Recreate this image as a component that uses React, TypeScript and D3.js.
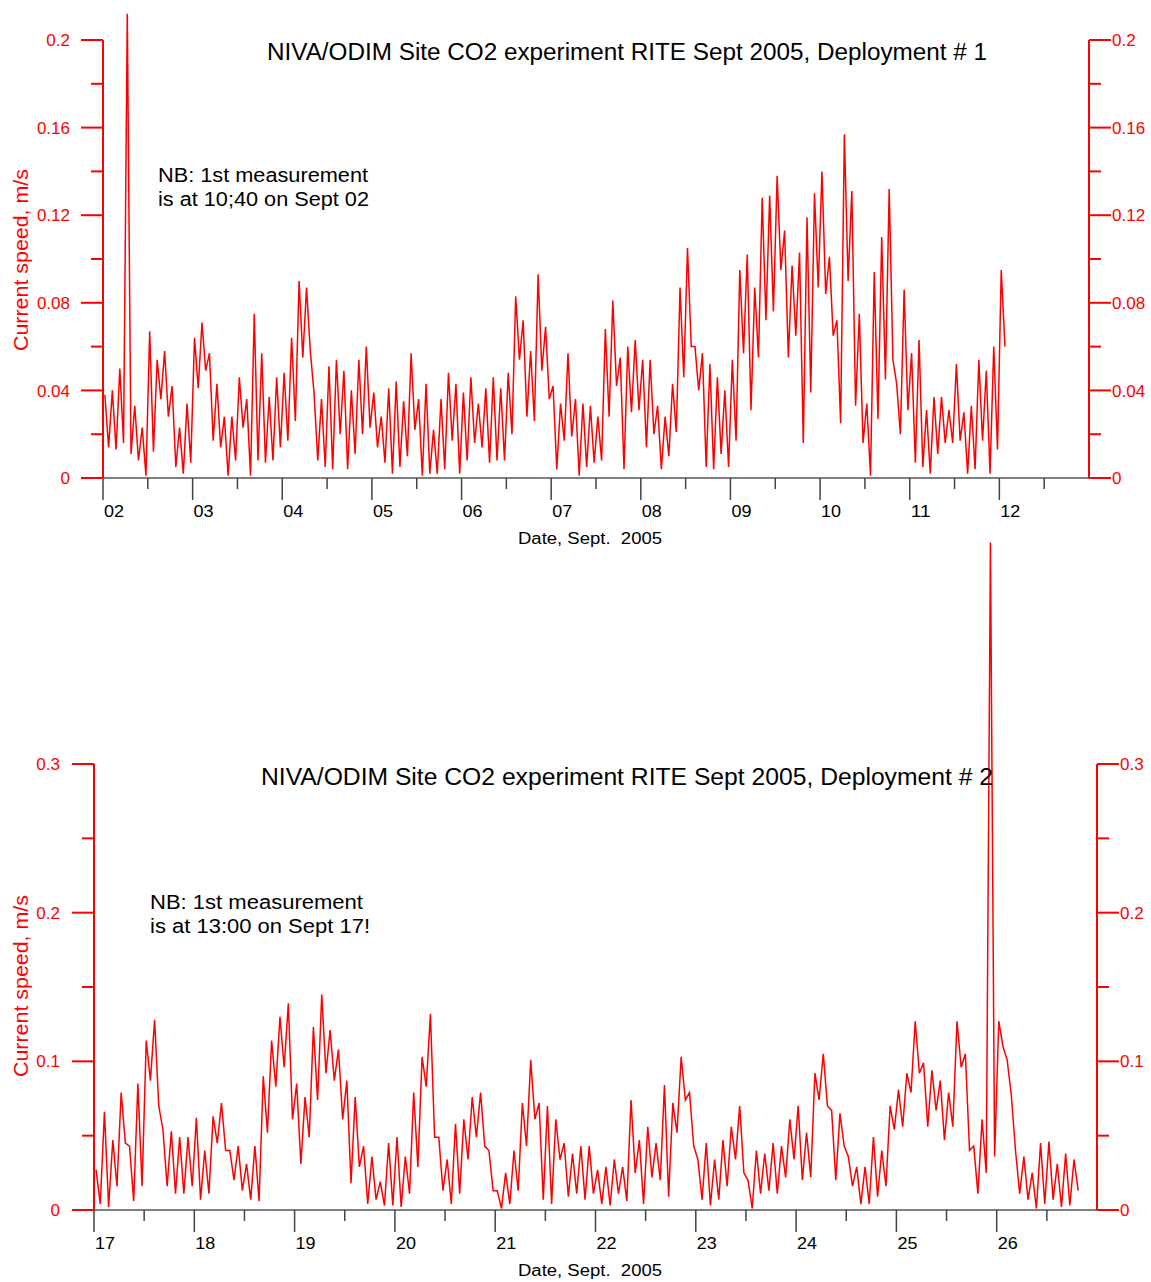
import { useEffect, useRef } from 'react';
import * as d3 from 'd3';

// 2-hour bins, high / low envelope (m/s)
const binsPerDay = 12;

const dep1Start = 2;
const dep1Hi = [
  0.038, 0.040, 0.050, 0.212, 0.033, 0.023,
  0.067, 0.054, 0.058, 0.042, 0.023, 0.034,
  0.064, 0.071, 0.057, 0.043, 0.028, 0.028,
  0.046, 0.036, 0.075, 0.057, 0.037, 0.046,
  0.048, 0.064, 0.090, 0.087, 0.039, 0.036,
  0.051, 0.054, 0.049, 0.040, 0.054, 0.060,
  0.039, 0.028, 0.041, 0.044, 0.035, 0.057,
  0.036, 0.043, 0.022, 0.036, 0.048, 0.043,
  0.039, 0.046, 0.034, 0.041, 0.046, 0.041,
  0.048, 0.083, 0.072, 0.058, 0.093, 0.069,
  0.042, 0.034, 0.057, 0.036, 0.034, 0.033,
  0.028, 0.068, 0.081, 0.055, 0.060, 0.063,
  0.054, 0.054, 0.033, 0.028, 0.043, 0.087,
  0.105, 0.060, 0.057, 0.052, 0.046, 0.040,
  0.054, 0.095, 0.102, 0.087, 0.128, 0.129,
  0.138, 0.113, 0.097, 0.103, 0.119, 0.130,
  0.140, 0.101, 0.072, 0.157, 0.131, 0.075,
  0.034, 0.094, 0.110, 0.132, 0.043, 0.086,
  0.057, 0.063, 0.031, 0.037, 0.037, 0.031,
  0.052, 0.030, 0.033, 0.054, 0.049, 0.060,
  0.095,
];
const dep1Lo = [
  0.014, 0.013, 0.016, 0.011, 0.008, 0.001,
  0.012, 0.036, 0.028, 0.005, 0.002, 0.007,
  0.041, 0.049, 0.017, 0.014, 0.001, 0.008,
  0.023, 0.001, 0.008, 0.007, 0.008, 0.014,
  0.017, 0.026, 0.055, 0.058, 0.008, 0.005,
  0.004, 0.020, 0.004, 0.011, 0.020, 0.023,
  0.014, 0.007, 0.002, 0.005, 0.010, 0.022,
  0.001, 0.002, 0.002, 0.004, 0.017, 0.002,
  0.008, 0.016, 0.014, 0.007, 0.008, 0.008,
  0.020, 0.054, 0.028, 0.026, 0.049, 0.036,
  0.004, 0.017, 0.019, 0.001, 0.005, 0.007,
  0.008, 0.028, 0.042, 0.004, 0.030, 0.031,
  0.014, 0.020, 0.004, 0.010, 0.021, 0.046,
  0.060, 0.040, 0.005, 0.004, 0.011, 0.005,
  0.017, 0.057, 0.031, 0.055, 0.072, 0.076,
  0.095, 0.055, 0.065, 0.016, 0.039, 0.087,
  0.084, 0.065, 0.025, 0.090, 0.033, 0.016,
  0.001, 0.027, 0.045, 0.054, 0.020, 0.031,
  0.007, 0.005, 0.002, 0.011, 0.016, 0.016,
  0.017, 0.002, 0.004, 0.017, 0.002, 0.013,
  0.060,
];

const dep2Start = 17;
const dep2Hi = [
  0.027, 0.066, 0.047, 0.079, 0.043, 0.085,
  0.114, 0.128, 0.054, 0.053, 0.049, 0.049,
  0.062, 0.040, 0.063, 0.072, 0.040, 0.043,
  0.031, 0.043, 0.090, 0.114, 0.130, 0.139,
  0.085, 0.076, 0.123, 0.145, 0.121, 0.108,
  0.087, 0.076, 0.043, 0.036, 0.019, 0.045,
  0.049, 0.036, 0.079, 0.103, 0.132, 0.049,
  0.034, 0.058, 0.061, 0.076, 0.079, 0.040,
  0.013, 0.025, 0.040, 0.072, 0.101, 0.072,
  0.070, 0.061, 0.045, 0.038, 0.043, 0.043,
  0.027, 0.029, 0.034, 0.029, 0.074, 0.047,
  0.056, 0.045, 0.084, 0.072, 0.103, 0.079,
  0.034, 0.045, 0.034, 0.047, 0.056, 0.070,
  0.020, 0.040, 0.038, 0.045, 0.043, 0.061,
  0.070, 0.052, 0.092, 0.105, 0.067, 0.065,
  0.036, 0.029, 0.029, 0.049, 0.040, 0.070,
  0.081, 0.092, 0.127, 0.099, 0.094, 0.087,
  0.079, 0.127, 0.105, 0.043, 0.061, 0.449,
  0.127, 0.101, 0.040, 0.036, 0.025, 0.045,
  0.046, 0.031, 0.038, 0.034,
];
const dep2Lo = [
  0.004, 0.002, 0.016, 0.045, 0.006, 0.016,
  0.087, 0.070, 0.016, 0.011, 0.011, 0.016,
  0.007, 0.011, 0.045, 0.040, 0.020, 0.013,
  0.007, 0.006, 0.052, 0.083, 0.096, 0.061,
  0.031, 0.049, 0.074, 0.092, 0.087, 0.061,
  0.018, 0.029, 0.004, 0.007, 0.003, 0.003,
  0.002, 0.011, 0.029, 0.083, 0.049, 0.013,
  0.004, 0.011, 0.034, 0.049, 0.043, 0.013,
  0.001, 0.004, 0.013, 0.043, 0.061, 0.007,
  0.004, 0.034, 0.009, 0.011, 0.007, 0.011,
  0.004, 0.003, 0.011, 0.006, 0.025, 0.004,
  0.022, 0.020, 0.009, 0.052, 0.074, 0.043,
  0.007, 0.003, 0.007, 0.016, 0.034, 0.025,
  0.001, 0.011, 0.013, 0.011, 0.022, 0.034,
  0.020, 0.022, 0.074, 0.070, 0.020, 0.043,
  0.016, 0.004, 0.004, 0.009, 0.016, 0.054,
  0.056, 0.079, 0.092, 0.056, 0.067, 0.047,
  0.056, 0.096, 0.040, 0.011, 0.025, 0.036,
  0.110, 0.077, 0.011, 0.007, 0.001, 0.004,
  0.007, 0.002, 0.003, 0.013,
];

const dep1Days = [2, 3, 4, 5, 6, 7, 8, 9, 10, 11, 12];
const dep2Days = [17, 18, 19, 20, 21, 22, 23, 24, 25, 26];
const dep1YTicks = [0, 0.04, 0.08, 0.12, 0.16, 0.2];
const dep2YTicks = [0, 0.1, 0.2, 0.3];

const RED = '#ff0000';
const FONT = '"Liberation Sans", Arial, Helvetica, sans-serif';

interface PanelCfg {
  hi: number[];
  lo: number[];
  start: number;
  xDomain: [number, number];
  xRange: [number, number];
  yDomain: [number, number];
  yRange: [number, number];
  yTicks: number[];
  days: number[];
  title: string;
  titleY: number;
  titleW: number;
  note: string[];
  noteW: number[];
  noteX: number;
  noteY: number;
  yTitleY: number;
  leftLabelX: number;
  xLabelY: number;
}

function drawPanel(svg: d3.Selection<SVGSVGElement, unknown, null, undefined>, p: PanelCfg) {
  const x = d3.scaleLinear().domain(p.xDomain).range(p.xRange);
  const y = d3.scaleLinear().domain(p.yDomain).range(p.yRange);
  const [x0, x1] = p.xRange;
  const [yb, yt] = p.yRange;
  const g = svg.append('g');

  // minor y ticks halfway between majors
  const step = p.yTicks[1] - p.yTicks[0];
  const yMinor = p.yTicks.slice(0, -1).map(v => v + step / 2);

  // series: each 2 h bin drawn as its high then its low
  const pts: [number, number][] = [];
  p.hi.forEach((h, i) => {
    pts.push([p.start + (i + 0.25) / binsPerDay, h]);
    pts.push([p.start + (i + 0.75) / binsPerDay, p.lo[i]]);
  });
  const line = d3.line<[number, number]>().x(d => x(d[0])).y(d => y(d[1]));
  g.append('path')
    .attr('d', line(pts))
    .attr('fill', 'none').attr('stroke', RED)
    .attr('stroke-width', 1.5).attr('stroke-linejoin', 'miter');

  // x axis
  g.append('line')
    .attr('x1', x0).attr('x2', x1).attr('y1', yb).attr('y2', yb)
    .attr('stroke', '#555').attr('stroke-width', 1.5);
  const allDays = d3.range(p.xDomain[0], p.xDomain[1], 0.5);
  g.selectAll('.xt').data(allDays).enter().append('line')
    .attr('x1', d => x(d)).attr('x2', d => x(d))
    .attr('y1', yb).attr('y2', d => yb + (d % 1 === 0 ? 22 : 11))
    .attr('stroke', '#444').attr('stroke-width', 1.5);
  g.selectAll('.xl').data(p.days).enter().append('text')
    .attr('x', d => x(d) + 1).attr('y', yb + 39)
    .attr('font-family', FONT).attr('font-size', 17).attr('fill', '#000')
    .attr('textLength', 20).attr('lengthAdjust', 'spacingAndGlyphs')
    .text(d => d3.format('02d')(d));
  g.append('text')
    .attr('x', 590).attr('y', p.xLabelY).attr('text-anchor', 'middle')
    .attr('font-family', FONT).attr('font-size', 16).attr('fill', '#000')
    .attr('xml:space', 'preserve')
    .attr('textLength', 144).attr('lengthAdjust', 'spacingAndGlyphs')
    .text('Date, Sept.  2005');

  // y axes, left and right
  [x0, x1].forEach((ax, side) => {
    const dir = side === 0 ? -1 : 1;
    g.append('line')
      .attr('x1', ax).attr('x2', ax).attr('y1', yb).attr('y2', yt)
      .attr('stroke', RED).attr('stroke-width', 2);
    g.selectAll(`.ymaj${side}`).data(p.yTicks).enter().append('line')
      .attr('x1', ax).attr('x2', ax + dir * 22)
      .attr('y1', d => y(d)).attr('y2', d => y(d))
      .attr('stroke', RED).attr('stroke-width', 2);
    g.selectAll(`.ymin${side}`).data(yMinor).enter().append('line')
      .attr('x1', ax).attr('x2', ax + dir * 12)
      .attr('y1', d => y(d)).attr('y2', d => y(d))
      .attr('stroke', RED).attr('stroke-width', 2);
    g.selectAll(`.yl${side}`).data(p.yTicks).enter().append('text')
      .attr('x', side === 0 ? p.leftLabelX : ax + 23)
      .attr('y', d => y(d)).attr('dy', '0.36em')
      .attr('text-anchor', side === 0 ? 'end' : 'start')
      .attr('font-family', FONT).attr('font-size', 17).attr('fill', RED)
      .text(d => String(d));
  });

  g.append('text')
    .attr('transform', `translate(28,${p.yTitleY}) rotate(-90)`)
    .attr('text-anchor', 'middle')
    .attr('font-family', FONT).attr('font-size', 20).attr('fill', RED)
    .attr('textLength', 182).attr('lengthAdjust', 'spacingAndGlyphs')
    .text('Current speed, m/s');

  // title and note
  g.append('text')
    .attr('x', 627).attr('y', p.titleY).attr('text-anchor', 'middle')
    .attr('font-family', FONT).attr('font-size', 23).attr('fill', '#000')
    .attr('textLength', p.titleW).attr('lengthAdjust', 'spacingAndGlyphs')
    .text(p.title);
  p.note.forEach((t, i) => {
    g.append('text')
      .attr('x', p.noteX).attr('y', p.noteY + i * 24)
      .attr('font-family', FONT).attr('font-size', 20).attr('fill', '#000')
      .attr('textLength', p.noteW[i]).attr('lengthAdjust', 'spacingAndGlyphs')
      .text(t);
  });
}

export default function App() {
  const ref = useRef<SVGSVGElement>(null);

  useEffect(() => {
    if (!ref.current) return;
    const svg = d3.select(ref.current);
    svg.selectAll('*').remove();

    drawPanel(svg, {
      hi: dep1Hi, lo: dep1Lo, start: dep1Start,
      xDomain: [2, 13], xRange: [103, 1089],
      yDomain: [0, 0.2], yRange: [478, 40],
      yTicks: dep1YTicks, days: dep1Days,
      title: 'NIVA/ODIM Site CO2 experiment RITE Sept 2005, Deployment # 1',
      titleY: 60, titleW: 720,
      note: ['NB: 1st measurement', 'is at 10;40 on Sept 02'],
      noteW: [210, 211],
      noteX: 158, noteY: 182,
      yTitleY: 260, leftLabelX: 70, xLabelY: 544,
    });

    drawPanel(svg, {
      hi: dep2Hi, lo: dep2Lo, start: dep2Start,
      xDomain: [17, 27], xRange: [94, 1097],
      yDomain: [0, 0.3], yRange: [1210, 764],
      yTicks: dep2YTicks, days: dep2Days,
      title: 'NIVA/ODIM Site CO2 experiment RITE Sept 2005, Deployment # 2',
      titleY: 785, titleW: 732,
      note: ['NB: 1st measurement', 'is at 13:00 on Sept 17!'],
      noteW: [213, 220],
      noteX: 150, noteY: 909,
      yTitleY: 986, leftLabelX: 60, xLabelY: 1276,
    });
  }, []);

  return (
    <svg
      ref={ref}
      width={1151}
      height={1282}
      style={{ position: 'absolute', left: 0, top: 0, background: '#fff' }}
    />
  );
}
